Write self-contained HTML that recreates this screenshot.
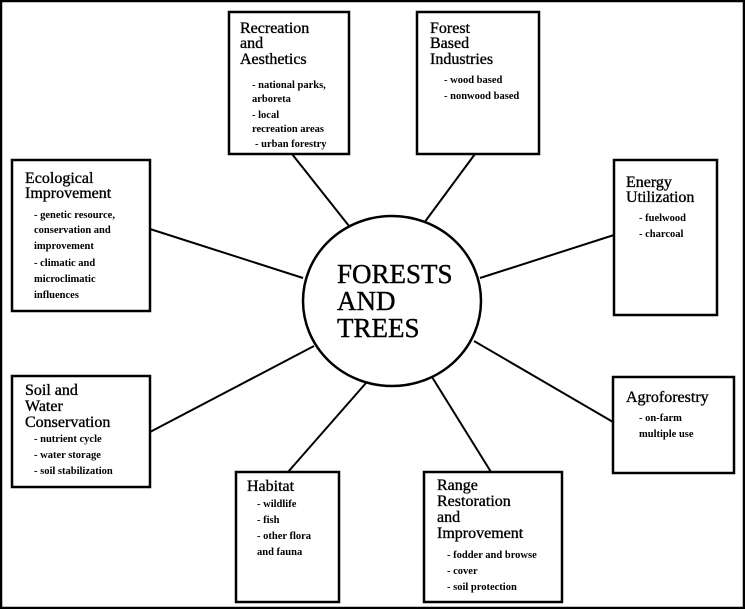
<!DOCTYPE html>
<html><head><meta charset="utf-8"><style>
html,body{margin:0;padding:0;background:#fff;}
svg{display:block;}
text{font-family:"Liberation Serif","Times New Roman","DejaVu Serif",serif;}
.t{font-size:16px;fill:#000;stroke:#000;stroke-width:0.35;}
.s{font-size:10.5px;font-weight:bold;fill:#000;}
.c{font-size:27px;fill:#000;stroke:#000;stroke-width:0.4;}
</style></head><body>
<svg width="745" height="609" viewBox="0 0 745 609" xmlns="http://www.w3.org/2000/svg" font-family="Liberation Serif, Times New Roman, serif">
<rect x="1" y="1" width="743" height="607" fill="#fff" stroke="#000" stroke-width="2.5"/>
<g stroke="#000" stroke-width="2" fill="none">
<line x1="292" y1="154" x2="349" y2="226"/>
<line x1="475" y1="154" x2="424" y2="223"/>
<line x1="150" y1="229" x2="303" y2="278"/>
<line x1="614" y1="235" x2="480" y2="278"/>
<line x1="150" y1="432" x2="314" y2="346"/>
<line x1="288" y1="472" x2="366" y2="383"/>
<line x1="491" y1="472" x2="432" y2="377"/>
<line x1="613" y1="422" x2="474" y2="341"/>
</g>
<g stroke="#000" stroke-width="2.5" fill="#fff">
<rect x="229" y="12" width="120" height="142"/>
<rect x="417" y="12" width="122" height="142"/>
<rect x="12" y="160" width="138" height="151"/>
<rect x="614" y="160" width="103" height="155"/>
<rect x="12" y="376" width="138" height="111"/>
<rect x="236" y="472" width="103" height="130"/>
<rect x="424" y="472" width="138" height="130"/>
<rect x="613" y="377" width="121" height="96"/>
<ellipse cx="392" cy="301" rx="89" ry="85"/>
</g>
<text class="c" x="337" y="283">FORESTS</text>
<text class="c" x="337" y="310">AND</text>
<text class="c" x="337" y="337">TREES</text>

<text class="t" x="240" y="33">Recreation</text>
<text class="t" x="240" y="48">and</text>
<text class="t" x="240" y="64">Aesthetics</text>
<text class="s" x="252" y="88">- national parks,</text>
<text class="s" x="252" y="102">arboreta</text>
<text class="s" x="252" y="118">- local</text>
<text class="s" x="252" y="132">recreation areas</text>
<text class="s" x="255" y="147">- urban forestry</text>

<text class="t" x="430" y="33">Forest</text>
<text class="t" x="430" y="48">Based</text>
<text class="t" x="430" y="64">Industries</text>
<text class="s" x="444" y="83">- wood based</text>
<text class="s" x="444" y="99">- nonwood based</text>

<text class="t" x="25" y="183">Ecological</text>
<text class="t" x="25" y="198">Improvement</text>
<text class="s" x="34" y="218">- genetic resource,</text>
<text class="s" x="34" y="233">conservation and</text>
<text class="s" x="34" y="249">improvement</text>
<text class="s" x="34" y="266">- climatic and</text>
<text class="s" x="34" y="282">microclimatic</text>
<text class="s" x="34" y="298">influences</text>

<text class="t" x="626" y="187">Energy</text>
<text class="t" x="626" y="202">Utilization</text>
<text class="s" x="639" y="221">- fuelwood</text>
<text class="s" x="639" y="237">- charcoal</text>

<text class="t" x="25" y="395">Soil and</text>
<text class="t" x="25" y="411">Water</text>
<text class="t" x="25" y="427">Conservation</text>
<text class="s" x="34" y="442">- nutrient cycle</text>
<text class="s" x="34" y="458">- water storage</text>
<text class="s" x="34" y="474">- soil stabilization</text>

<text class="t" x="247" y="491">Habitat</text>
<text class="s" x="257" y="507">- wildlife</text>
<text class="s" x="257" y="523">- fish</text>
<text class="s" x="257" y="539">- other flora</text>
<text class="s" x="257" y="555">and fauna</text>

<text class="t" x="437" y="490">Range</text>
<text class="t" x="437" y="506">Restoration</text>
<text class="t" x="437" y="522">and</text>
<text class="t" x="437" y="538">Improvement</text>
<text class="s" x="447" y="558">- fodder and browse</text>
<text class="s" x="447" y="574">- cover</text>
<text class="s" x="447" y="590">- soil protection</text>

<text class="t" x="626" y="402">Agroforestry</text>
<text class="s" x="639" y="421">- on-farm</text>
<text class="s" x="639" y="437">multiple use</text>
</svg>
</body></html>
